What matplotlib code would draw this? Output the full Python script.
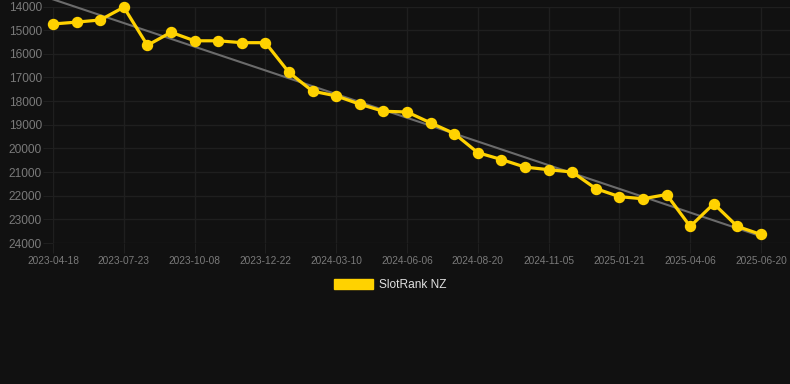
import numpy as np
import matplotlib.pyplot as plt
from matplotlib.patches import Patch

plt.rcParams['font.family'] = ['Liberation Sans', 'DejaVu Sans']

# rank values (lower = better), one point per date
ranks = [14740, 14660, 14570, 14030, 15640, 15090, 15450, 15450, 15530, 15530,
         16790, 17580, 17780, 18130, 18430, 18460, 18920, 19370, 20180, 20470,
         20790, 20900, 21000, 21700, 22040, 22130, 21950, 23300, 22340, 23300,
         23640]
tick_labels = ['2023-04-18', '2023-07-23', '2023-10-08', '2023-12-22', '2024-03-10',
               '2024-06-06', '2024-08-20', '2024-11-05', '2025-01-21', '2025-04-06',
               '2025-06-20']
yticks = [14000, 15000, 16000, 17000, 18000, 19000, 20000, 21000, 22000, 23000, 24000]

bg = '#111111'
grid = '#1f1f1f'
txt = '#7a7a7a'
gold = '#FFD200'

x = np.arange(len(ranks))
slope, icept = np.polyfit(x, ranks, 1)  # trend line

fig = plt.figure(figsize=(7.9, 3.84), dpi=100, facecolor=bg)
ax = fig.add_axes([53 / 790, 1 - 243 / 384, 737 / 790, 236.5 / 384])
ax.set_facecolor(bg)

ax.plot(x, slope * x + icept, color='#6b6b6b', lw=1.5, clip_on=False, zorder=3)
ax.plot(x, ranks, color=gold, lw=2.3, marker='o', ms=7.2, clip_on=False, zorder=4)

ax.set_xlim(0, 31.23)
ax.set_ylim(24000, 14000)
ax.set_yticks(yticks)
ax.set_yticklabels([str(v) for v in yticks])
ax.set_xticks(x[::3])
ax.set_xticklabels(tick_labels)

ax.grid(True, color=grid, lw=1)
for s in ax.spines.values():
    s.set_visible(False)
ax.tick_params(axis='y', colors=grid, labelcolor=txt, labelsize=8.6, length=7, pad=1)
ax.tick_params(axis='x', colors=grid, labelcolor=txt, labelsize=7.3, length=7, pad=2)

handle = Patch(facecolor=gold, edgecolor=gold)
leg = fig.legend([handle], ['SlotRank NZ'], loc='center', bbox_to_anchor=(390 / 790, 1 - 285 / 384),
                 frameon=False, fontsize=8.6, handlelength=3.3, handleheight=1.0,
                 handletextpad=0.5, labelcolor='#e0e0e0')

fig.savefig('out.png', dpi=100, facecolor=bg)
